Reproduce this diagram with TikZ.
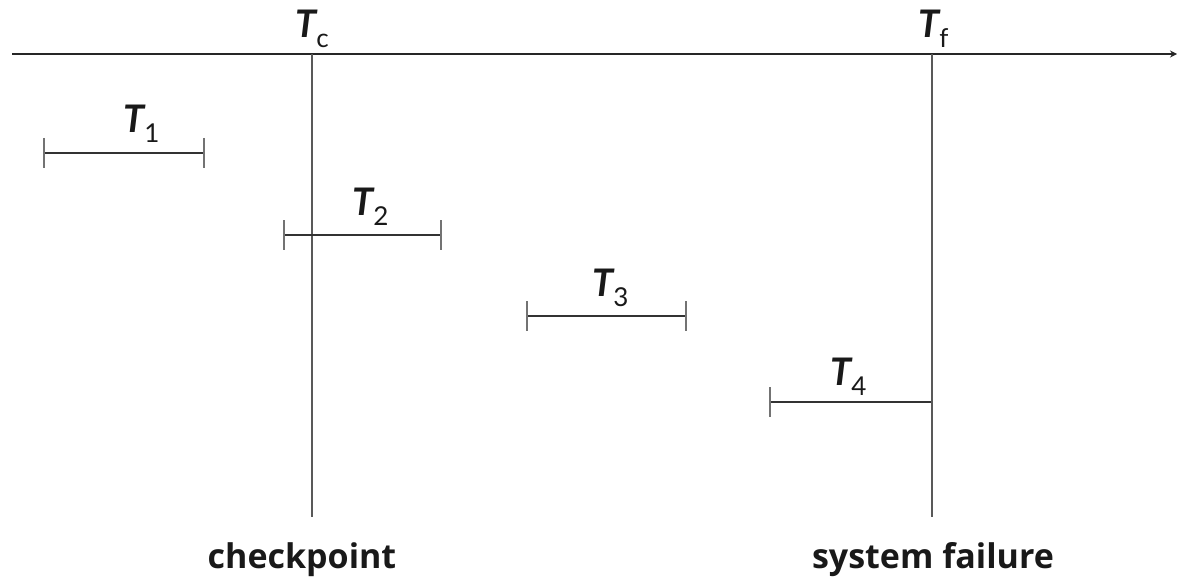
\documentclass[tikz,border=0pt]{standalone}
\usepackage{fontspec}
\setmainfont{Lato}
\newfontfamily\capfont{Open Sans}
\usetikzlibrary{arrows.meta}
\newcommand{\Tlab}[1]{{\fontsize{38}{40}\selectfont\bfseries\itshape T}\raisebox{-10pt}{\fontsize{26}{28}\selectfont #1}}
\begin{document}
\begin{tikzpicture}[x=1pt,y=-1pt,
  axis/.style={draw=black!85,line width=1.7pt},
  vline/.style={draw=black!65,line width=1.8pt},
  bar/.style={draw=black!80,line width=1.7pt},
  tickmark/.style={draw=black!55,line width=1.8pt},
  tlab/.style={anchor=base west,inner sep=0pt,text=black!90},
  caption/.style={anchor=base,inner sep=0pt,font=\capfont\fontsize{34}{36}\selectfont\bfseries,text=black!90}]
\useasboundingbox (0,0) rectangle (1177,580);
% axis
\coordinate (a0) at (12,54);
\coordinate (a1) at (1177,54);
\draw[axis,-{Stealth[length=7pt,width=7pt]}] (a0) -- (a1);
% vertical lines
\coordinate (c0) at (312,54);
\coordinate (c1) at (312,517);
\coordinate (f0) at (932,54);
\coordinate (f1) at (932,517);
\draw[vline] (c0) -- (c1);
\draw[vline] (f0) -- (f1);
\node[tlab] (Tc) at (295,38) {\Tlab{c}};
\node[tlab] (Tf) at (918,38) {\Tlab{f}};
% T1
\coordinate (b1l) at (44,153);
\coordinate (b1r) at (204,153);
\draw[bar] (b1l) -- (b1r);
\draw[tickmark] ([yshift=15pt]b1l) -- ([yshift=-15pt]b1l);
\draw[tickmark] ([yshift=15pt]b1r) -- ([yshift=-15pt]b1r);
\node[tlab] (T1) at (123,133) {\Tlab{1}};
% T2
\coordinate (b2l) at (284,235);
\coordinate (b2r) at (441,235);
\draw[bar] (b2l) -- (b2r);
\draw[tickmark] ([yshift=15pt]b2l) -- ([yshift=-15pt]b2l);
\draw[tickmark] ([yshift=15pt]b2r) -- ([yshift=-15pt]b2r);
\node[tlab] (T2) at (352,215) {\Tlab{2}};
% T3
\coordinate (b3l) at (527,316);
\coordinate (b3r) at (686,316);
\draw[bar] (b3l) -- (b3r);
\draw[tickmark] ([yshift=15pt]b3l) -- ([yshift=-15pt]b3l);
\draw[tickmark] ([yshift=15pt]b3r) -- ([yshift=-15pt]b3r);
\node[tlab] (T3) at (592,296) {\Tlab{3}};
% T4
\coordinate (b4l) at (770,402);
\coordinate (b4r) at (931,402);
\draw[bar] (b4l) -- (b4r);
\draw[tickmark] ([yshift=15pt]b4l) -- ([yshift=-15pt]b4l);
\node[tlab] (T4) at (830,385) {\Tlab{4}};
% captions
\node[caption] (cp) at (302,568) {checkpoint};
\node[caption] (sf) at (933,568) {system failure};
\end{tikzpicture}
\end{document}
